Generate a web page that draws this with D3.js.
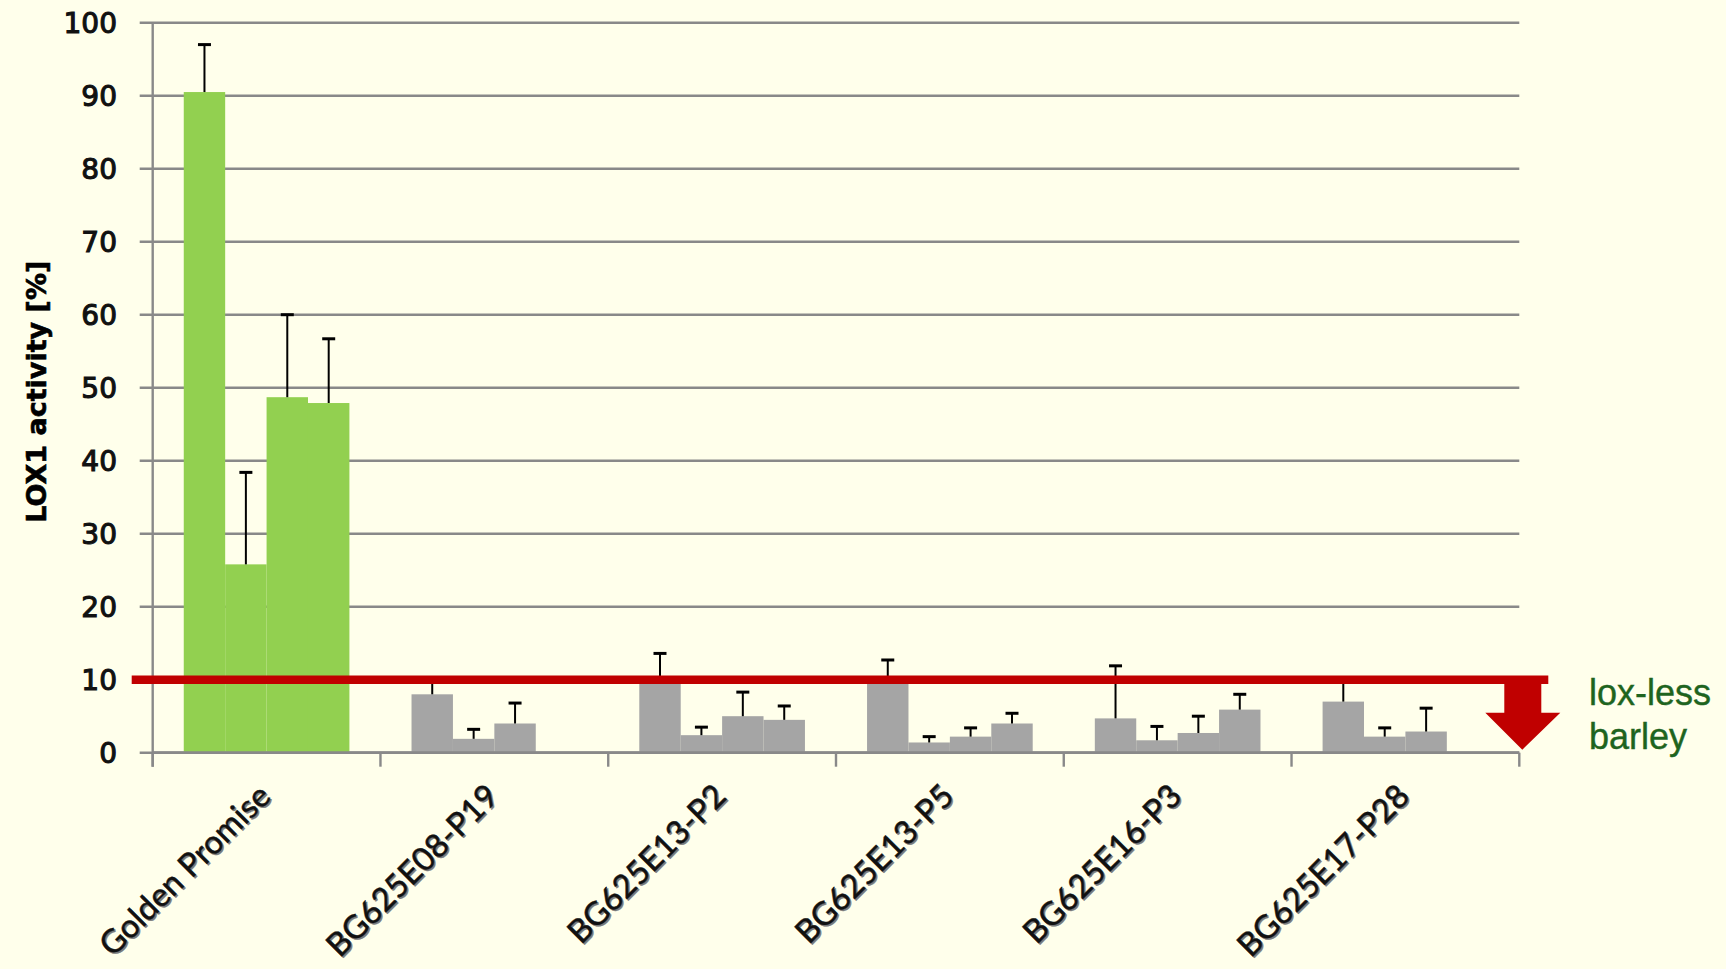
<!DOCTYPE html>
<html>
<head>
<meta charset="utf-8">
<script src="https://cdn.jsdelivr.net/npm/d3@7"></script>
<style>
  html, body { margin: 0; padding: 0; background: #ffffeb; }
  svg { display: block; }
</style>
</head>
<body>
<div id="chart"></div>
<script>
// 品系名称
var categories = ['Golden Promise', 'BG625E08-P19', 'BG625E13-P2', 'BG625E13-P5', 'BG625E16-P3', 'BG625E17-P28']
var series = ['rep1', 'rep2', 'rep3', 'rep4']

// 每个重复的数值和误差(null = 没有柱)
var rep1 = [90.5, 8.0, 9.8, 9.7, 4.7, 7.0]
var rep1Err = [6.5, 1.8, 3.8, 3.0, 7.2, 2.8]
var rep2 = [25.8, 1.9, 2.4, 1.4, 1.7, 2.2]
var rep2Err = [12.6, 1.3, 1.1, 0.8, 1.9, 1.2]
var rep3 = [48.7, 4.0, 5.0, 2.2, 2.7, 2.9]
var rep3Err = [11.3, 2.8, 3.3, 1.2, 2.3, 3.2]
var rep4 = [47.9, null, 4.5, 4.0, 5.9, null]
var rep4Err = [8.8, null, 1.9, 1.4, 2.1, null]

var yTicks = [0, 10, 20, 30, 40, 50, 60, 70, 80, 90, 100]
var threshold = 10
var yTitle = 'LOX1 activity [%]'
var noteLines = ['lox-less', 'barley']

var width = 1726
var height = 969
var plot = {left: 152.7, right: 1519.3, top: 22.7, bottom: 752.7}

var values = [rep1, rep2, rep3, rep4]
var errors = [rep1Err, rep2Err, rep3Err, rep4Err]

// 拼成画图用的数据
var barData = []
categories.forEach(function(c, ci){
  series.forEach(function(s, si){
    if(values[si][ci] != null){
      barData.push({cat: c, ser: s, value: values[si][ci], err: errors[si][ci], control: ci == 0})
    }
  })
})

var svg = d3.select('#chart').append('svg')
  .attr('width', width)
  .attr('height', height)

svg.append('rect')
  .attr('width', width)
  .attr('height', height)
  .attr('fill', '#ffffeb')

var x = d3.scaleBand()
  .domain(categories)
  .range([plot.left, plot.right])
  .padding(0)

var xs = d3.scaleBand()
  .domain(series)
  .range([0, x.bandwidth()])
  .paddingInner(0)
  .paddingOuter(0.75)

var y = d3.scaleLinear()
  .domain([0, 100])
  .range([plot.bottom, plot.top])

var gridColor = '#898989'

//网格线
svg.append('g')
  .selectAll('line')
  .data(yTicks)
  .enter()
  .append('line')
  .attr('x1', plot.left - 13)
  .attr('x2', plot.right)
  .attr('y1', function(d){ return y(d) })
  .attr('y2', function(d){ return y(d) })
  .attr('stroke', gridColor)
  .attr('stroke-width', 2.6)

// y轴刻度文字
svg.append('g')
  .selectAll('text')
  .data(yTicks)
  .enter()
  .append('text')
  .attr('x', 117)
  .attr('y', function(d){ return y(d) })
  .attr('dy', '0.36em')
  .attr('text-anchor', 'end')
  .attr('font-family', 'DejaVu Sans, Verdana, sans-serif')
  .attr('font-size', 28)
  .attr('fill', '#111')
  .attr('stroke', '#111')
  .attr('stroke-width', 1.1)
  .text(function(d){ return d })

// y轴
svg.append('line')
  .attr('x1', plot.left)
  .attr('x2', plot.left)
  .attr('y1', plot.top)
  .attr('y2', plot.bottom + 14)
  .attr('stroke', gridColor)
  .attr('stroke-width', 2.4)

// x轴刻度
var bounds = categories.map(function(c){ return x(c) }).concat([plot.right])
svg.append('g')
  .selectAll('line')
  .data(bounds)
  .enter()
  .append('line')
  .attr('x1', function(d){ return d })
  .attr('x2', function(d){ return d })
  .attr('y1', plot.bottom)
  .attr('y2', plot.bottom + 14)
  .attr('stroke', gridColor)
  .attr('stroke-width', 2.4)

// 柱子
svg.append('g')
  .selectAll('rect')
  .data(barData)
  .enter()
  .append('rect')
  .attr('x', function(d){ return x(d.cat) + xs(d.ser) })
  .attr('y', function(d){ return y(d.value) })
  .attr('width', xs.bandwidth())
  .attr('height', function(d){ return y(0) - y(d.value) })
  .attr('fill', function(d){ return d.control ? '#92d050' : '#a5a5a5' })

// x轴线压在柱子上
svg.append('line')
  .attr('x1', plot.left)
  .attr('x2', plot.right)
  .attr('y1', plot.bottom)
  .attr('y2', plot.bottom)
  .attr('stroke', gridColor)
  .attr('stroke-width', 2.8)

// 误差线(只有正方向)
var errG = svg.append('g')
  .selectAll('g')
  .data(barData)
  .enter()
  .append('g')
  .attr('transform', function(d){
    return 'translate(' + (x(d.cat) + xs(d.ser) + xs.bandwidth() / 2) + ',0)'
  })
errG.append('line')
  .attr('x1', 0)
  .attr('x2', 0)
  .attr('y1', function(d){ return y(d.value) })
  .attr('y2', function(d){ return y(d.value + d.err) })
  .attr('stroke', '#000')
  .attr('stroke-width', 2)
errG.append('line')
  .attr('x1', -6.5)
  .attr('x2', 6.5)
  .attr('y1', function(d){ return y(d.value + d.err) })
  .attr('y2', function(d){ return y(d.value + d.err) })
  .attr('stroke', '#000')
  .attr('stroke-width', 3)

// 10% 红线
svg.append('line')
  .attr('x1', plot.left - 21)
  .attr('x2', plot.right + 29)
  .attr('y1', y(threshold))
  .attr('y2', y(threshold))
  .attr('stroke', '#c00000')
  .attr('stroke-width', 8.5)

// 向下箭头
var ax = plot.right + 3
var arrowTop = y(threshold)
var headY = y(threshold) + 33
var tipY = y(0) - 3
svg.append('path')
  .attr('d', 'M' + (ax - 18) + ',' + arrowTop +
    'L' + (ax + 19) + ',' + arrowTop +
    'L' + (ax + 19) + ',' + headY +
    'L' + (ax + 38) + ',' + headY +
    'L' + ax + ',' + tipY +
    'L' + (ax - 37) + ',' + headY +
    'L' + (ax - 18) + ',' + headY + 'Z')
  .attr('fill', '#c00000')

// 右边说明文字
svg.append('g')
  .selectAll('text')
  .data(noteLines)
  .enter()
  .append('text')
  .attr('x', 1589)
  .attr('y', function(d, i){ return 705 + i * 44 })
  .attr('font-family', 'Liberation Sans, Arial, sans-serif')
  .attr('font-size', 36)
  .attr('fill', '#1e641e')
  .attr('stroke', '#1e641e')
  .attr('stroke-width', 0.4)
  .text(function(d){ return d })

// y轴标题
svg.append('text')
  .attr('transform', 'translate(46,' + ((plot.top + plot.bottom) / 2 + 4) + ') rotate(-90)')
  .attr('text-anchor', 'middle')
  .attr('font-family', 'DejaVu Sans, Verdana, sans-serif')
  .attr('font-weight', 'bold')
  .attr('font-size', 26)
  .attr('textLength', 262)
  .attr('lengthAdjust', 'spacingAndGlyphs')
  .attr('fill', '#000')
  .attr('stroke', '#000')
  .attr('stroke-width', 0.6)
  .text(yTitle)

// x轴类别文字,带阴影
function xLabel(offset, color){
  svg.append('g')
    .selectAll('text')
    .data(categories)
    .enter()
    .append('text')
    .attr('transform', function(d){
      var cx = x(d) + x.bandwidth() / 2 + 6 + offset
      return 'translate(' + cx + ',' + (798 + offset) + ') rotate(-45)'
    })
    .attr('text-anchor', 'end')
    .attr('font-family', 'Lato, sans-serif')
    .attr('font-size', 32.5)
    .attr('fill', color)
    .attr('stroke', color)
    .attr('stroke-width', 0.4)
    .text(function(d){ return d })
}
xLabel(1.5, '#7a7a7a')
xLabel(0, '#111')
</script>
</body>
</html>
